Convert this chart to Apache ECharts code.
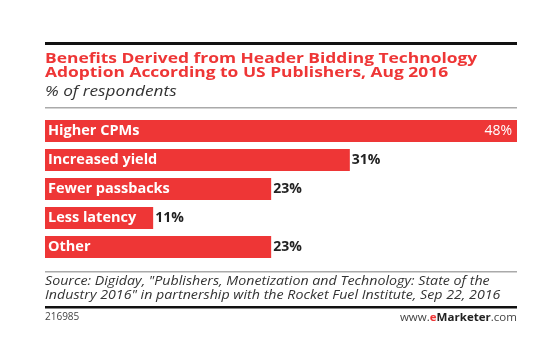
<!DOCTYPE html>
<html><head><meta charset="utf-8">
<script src="https://cdn.jsdelivr.net/npm/echarts@6/dist/echarts.min.js"></script>
<style>html,body{margin:0;padding:0;background:#fff;}#c{width:539px;height:344px;}</style>
</head><body><div id="c"></div>
<script>
const categories = ["Higher CPMs","Increased yield","Fewer passbacks","Less latency","Other"];
const values = [48,31,23,11,23];
const titleLines = ["Benefits Derived from Header Bidding Technology","Adoption According to US Publishers, Aug 2016"];
const subtitle = "% of respondents";
const sourceLines = ["Source: Digiday, \"Publishers, Monetization and Technology: State of the","Industry 2016\" in partnership with the Rocket Fuel Institute, Sep 22, 2016"];
const chartId = "216985";

const RED = "#ee3636";
const chart = echarts.init(document.getElementById('c'), null, {renderer:'canvas'});
const L = 45, R = 517;
chart.setOption({
  animation:false,
  grid:{left:L, width:R-L, top:116.5, height:145},
  xAxis:{type:'value', min:0, max:48, show:false},
  yAxis:{type:'category', data:categories, inverse:true, show:false},
  series:[{
    type:'bar', barWidth:22,
    data: values.map((v,i)=>({value:v, label: i===0 ? {position:'insideRight', distance:5, color:'#fff', fontWeight:'normal'} : {}})),
    itemStyle:{color:RED},
    label:{show:true, position:'right', distance:2, formatter:'{c}%', color:'#222', fontWeight:'bold', fontSize:14, fontFamily:'Open Sans'}
  },{
    type:'bar', barWidth:22, barGap:'-100%',
    data: values, itemStyle:{color:'transparent'}, silent:true,
    label:{show:true, position:'insideLeft', distance:3, formatter:p=>categories[p.dataIndex], color:'#fff', fontWeight:'bold', fontSize:14.5, fontFamily:'Open Sans'}
  }],
  graphic:[
    {type:'rect', shape:{x:L, y:42, width:R-L, height:3}, style:{fill:'#111'}},
    {type:'text', x:L, y:51, scaleX:1.16, style:{text:titleLines[0], fill:RED, font:'bold 15px "Open Sans"'}},
    {type:'text', x:L, y:65, scaleX:1.16, style:{text:titleLines[1], fill:RED, font:'bold 15px "Open Sans"'}},
    {type:'text', x:L, y:85, scaleX:1.23, style:{text:subtitle, fill:'#333', font:'italic 14px "Open Sans"'}},
    {type:'rect', shape:{x:L, y:107, width:R-L, height:1.5}, style:{fill:'#aaa'}},
    {type:'rect', shape:{x:L, y:271, width:R-L, height:1.5}, style:{fill:'#aaa'}},
    {type:'text', x:L, y:276, scaleX:1.185, style:{text:sourceLines[0], fill:'#333', font:'italic 12px "Open Sans"'}},
    {type:'text', x:L, y:290, scaleX:1.185, style:{text:sourceLines[1], fill:'#333', font:'italic 12px "Open Sans"'}},
    {type:'rect', shape:{x:L, y:306, width:R-L, height:2.5}, style:{fill:'#111'}},
    {type:'text', x:L, y:312, style:{text:chartId, fill:'#444', font:'10px "Open Sans"'}},
    {type:'text', x:R, y:312, scaleX:1.05, style:{rich:{a:{fill:'#444', font:'11px "Open Sans"'}, e:{fill:RED, font:'bold 11px "Open Sans"'}, m:{fill:'#222', font:'bold 11px "Open Sans"'}}, text:'{a|www.}{e|e}{m|Marketer}{a|.com}', align:'right'}}
  ]
});
</script></body></html>
